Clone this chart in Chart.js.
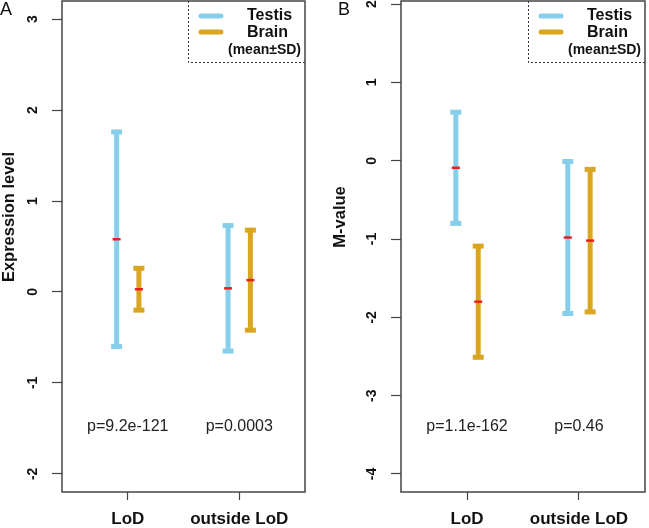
<!DOCTYPE html>
<html>
<head>
<meta charset="utf-8">
<script src="https://cdn.jsdelivr.net/npm/chart.js@4.4.1/dist/chart.umd.min.js"></script>
<style>
  body { margin: 0; background: #fff; }
  #wrap { position: relative; width: 649px; height: 528px; }
  canvas { position: absolute; top: 0; }
  #chartA { left: 0; }
  #chartB { left: 320px; }
</style>
</head>
<body>
<div id="wrap">
  <canvas id="chartA" width="320" height="528"></canvas>
  <canvas id="chartB" width="329" height="528"></canvas>
</div>
<script>
const categories = ["LoD", "outside LoD"];
const seriesNames = ["Testis", "Brain"];
const seriesColors = ["#87CEEB", "#DAA520"];
const meanColor = "#e8201c";

// Panel A - expression level (mean and SD per category)
const exprTestisMean = [0.58, 0.04];
const exprTestisSD = [1.18, 0.69];
const exprBrainMean = [0.03, 0.13];
const exprBrainSD = [0.23, 0.55];
const exprTicks = [-2, -1, 0, 1, 2, 3];
const exprPValues = ["p=9.2e-121", "p=0.0003"];

// Panel B - M-value
const mvalTestisMean = [-0.09, -0.98];
const mvalTestisSD = [0.71, 0.97];
const mvalBrainMean = [-1.80, -1.02];
const mvalBrainSD = [0.71, 0.91];
const mvalTicks = [-4, -3, -2, -1, 0, 1, 2];
const mvalPValues = ["p=1.1e-162", "p=0.46"];

const FONT = "'Liberation Sans', Arial, Helvetica, sans-serif";
const seriesOffset = [-0.1, 0.1];

/**
 * Draws the frame, legend, p-values, axis title and panel letter.
 */
const decorations = (cfg) => ({
  id: "decorations",
  afterDraw(chart) {
    const { ctx, chartArea: a, scales } = chart;
    ctx.save();

    // p-values under each category
    ctx.fillStyle = "#222";
    ctx.font = `16px ${FONT}`;
    ctx.textAlign = "center";
    ctx.textBaseline = "middle";
    cfg.pValues.forEach((t, i) => {
      ctx.fillText(t, scales.x.getPixelForValue(i + 1), scales.y.getPixelForValue(cfg.pValueY));
    });

    // legend box (dotted, top right)
    const lx = a.right - 117;
    ctx.strokeStyle = "#333";
    ctx.lineWidth = 1;
    ctx.setLineDash([2, 2]);
    ctx.beginPath();
    ctx.moveTo(lx + 0.5, a.top);
    ctx.lineTo(lx + 0.5, 62.5);
    ctx.lineTo(a.right, 62.5);
    ctx.stroke();
    ctx.setLineDash([]);

    ctx.lineCap = "round";
    ctx.lineWidth = 5;
    seriesNames.forEach((name, i) => {
      const y = 16 + i * 16;
      ctx.strokeStyle = seriesColors[i];
      ctx.beginPath();
      ctx.moveTo(a.right - 104, y);
      ctx.lineTo(a.right - 84, y);
      ctx.stroke();
      ctx.fillStyle = "#111";
      ctx.font = `bold 16px ${FONT}`;
      ctx.textAlign = "left";
      ctx.textBaseline = "alphabetic";
      ctx.fillText(name, a.right - 58, 19.5 + i * 17);
    });
    ctx.font = `bold 14px ${FONT}`;
    ctx.fillText("(mean\u00B1SD)", a.right - 77, 54);

    // frame
    ctx.strokeStyle = "#444";
    ctx.lineWidth = 1.5;
    ctx.strokeRect(a.left, a.top, a.right - a.left, a.bottom - a.top);

    // panel letter
    ctx.fillStyle = "#111";
    ctx.font = `18px ${FONT}`;
    ctx.textAlign = "left";
    ctx.textBaseline = "alphabetic";
    ctx.fillText(cfg.letter, cfg.letterX, 15);

    // y axis title
    ctx.translate(cfg.titleX, 217);
    ctx.rotate(-Math.PI / 2);
    ctx.font = `bold 16.5px ${FONT}`;
    ctx.textAlign = "center";
    ctx.textBaseline = "middle";
    ctx.fillText(cfg.yTitle, 0, 0);
    ctx.restore();
  },
});

const makePanel = (canvasId, cfg) => {
  const ctx = document.getElementById(canvasId).getContext("2d");
  const datasets = [];

  // red mean marks, drawn on top
  const meanPoints = [];
  cfg.means.forEach((m, s) => {
    m.forEach((v, i) => meanPoints.push({ x: i + 1 + seriesOffset[s], y: v }));
  });
  datasets.push({
    data: meanPoints,
    pointStyle: "line",
    pointRadius: 4,
    pointBorderWidth: 2.5,
    pointBorderColor: meanColor,
    showLine: false,
    order: 0,
  });

  // SD bars: vertical line with caps at both ends
  cfg.means.forEach((m, s) => {
    m.forEach((v, i) => {
      const x = i + 1 + seriesOffset[s];
      const sd = cfg.sds[s][i];
      datasets.push({
        data: [{ x: x, y: v - sd }, { x: x, y: v + sd }],
        showLine: true,
        borderColor: seriesColors[s],
        borderWidth: 5,
        pointStyle: "line",
        pointRadius: 5.5,
        pointBorderWidth: 5,
        pointBorderColor: seriesColors[s],
        order: 1,
      });
    });
  });

  return new Chart(ctx, {
    type: "scatter",
    data: { datasets: datasets },
    options: {
      responsive: false,
      animation: false,
      events: [],
      layout: { autoPadding: false, padding: { top: 1, right: cfg.rightPad, bottom: 0, left: 0 } },
      plugins: { legend: { display: false }, tooltip: { enabled: false } },
      scales: {
        x: {
          type: "linear",
          min: 0.41,
          max: 2.59,
          afterBuildTicks: (axis) => {
            axis.ticks = categories.map((c, i) => ({ value: i + 1 }));
          },
          afterFit: (axis) => {
            axis.height = 36;
            axis.paddingLeft = 0;
            axis.paddingRight = 0;
          },
          grid: { drawOnChartArea: false, tickLength: 8, tickColor: "#444", tickWidth: 1.2 },
          border: { display: false },
          ticks: {
            autoSkip: false,
            maxRotation: 0,
            padding: 9,
            color: "#111",
            font: { family: FONT, size: 17, weight: "bold" },
            callback: (v) => categories[v - 1],
          },
        },
        y: {
          min: cfg.yMin,
          max: cfg.yMax,
          afterBuildTicks: (axis) => {
            axis.ticks = cfg.ticks.map((v) => ({ value: v }));
          },
          afterFit: (axis) => {
            axis.width = cfg.yWidth;
            axis.paddingTop = 0;
            axis.paddingBottom = 0;
          },
          grid: { drawOnChartArea: false, tickLength: 10, tickColor: "#444", tickWidth: 1.2 },
          border: { display: false },
          ticks: {
            autoSkip: false,
            minRotation: 90,
            maxRotation: 90,
            crossAlign: "center",
            padding: 13,
            color: "#111",
            font: { family: FONT, size: 14, weight: "bold" },
            callback: (v) => String(v),
          },
        },
      },
    },
    plugins: [decorations(cfg)],
  });
};

makePanel("chartA", {
  means: [exprTestisMean, exprBrainMean],
  sds: [exprTestisSD, exprBrainSD],
  ticks: exprTicks,
  yMin: -2.2,
  yMax: 3.2,
  yWidth: 62,
  rightPad: 15,
  pValues: exprPValues,
  pValueY: -1.48,
  yTitle: "Expression level",
  titleX: 9,
  letter: "A",
  letterX: 0,
});

makePanel("chartB", {
  means: [mvalTestisMean, mvalBrainMean],
  sds: [mvalTestisSD, mvalBrainSD],
  ticks: mvalTicks,
  yMin: -4.23,
  yMax: 2.04,
  yWidth: 81,
  rightPad: 4,
  pValues: mvalPValues,
  pValueY: -3.39,
  yTitle: "M-value",
  titleX: 20,
  letter: "B",
  letterX: 18,
});
</script>
</body>
</html>
